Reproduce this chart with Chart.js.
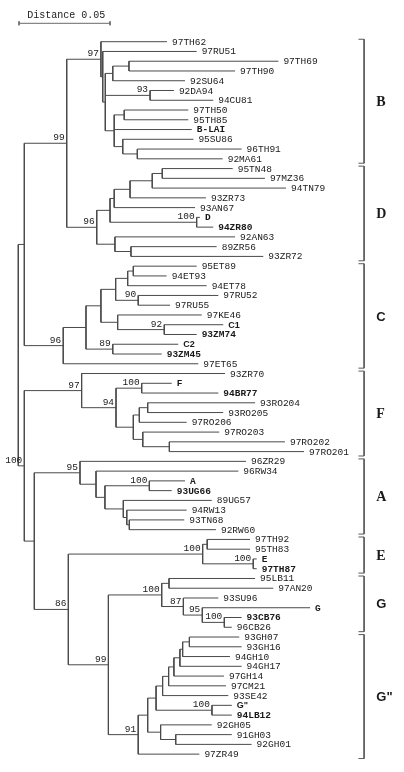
<!DOCTYPE html>
<html><head><meta charset="utf-8">
<script src="https://cdn.jsdelivr.net/npm/chart.js@4"></script>
<style>html,body{margin:0;padding:0;background:#fff}canvas{display:block}</style>
</head><body>
<canvas id="c" width="404" height="772"></canvas>
<script>
// ---- Leaves (top to bottom) and their distance from the root ----
const leafNames = ["97TH62","97RU51","97TH69","97TH90","92SU64","92DA94","94CU81","97TH50","95TH85","B-LAI","95SU86","96TH91","92MA61",
  "95TN48","97MZ36","94TN79","93ZR73","93AN67","D","94ZR80","92AN63","89ZR56","93ZR72",
  "95ET89","94ET93","94ET78","97RU52","97RU55","97KE46","C1","93ZM74","C2","93ZM45","97ET65",
  "93ZR70","F","94BR77","93RO204","93RO205","97RO206","97RO203","97RO202","97RO201",
  "96ZR29","96RW34","A","93UG66","89UG57","94RW13","93TN68","92RW60",
  "97TH92","95TH83","E","97TH87",
  "95LB11","97AN20","93SU96","G","93CB76","96CB26",
  "93GH07","93GH16","94GH10","94GH17","97GH14","97CM21","93SE42","G\"","94LB12","92GH05","91GH03","92GH01","97ZR49"];
const leafDepth = [0.0817,0.0980,0.1429,0.1191,0.0916,0.0855,0.1071,0.0934,0.0934,0.0953,0.0962,0.1227,0.1123,
  0.1178,0.1355,0.1471,0.1031,0.0971,0.0998,0.1071,0.1191,0.1090,0.1346,
  0.0980,0.0815,0.1035,0.1099,0.0834,0.1008,0.1126,0.0980,0.0879,0.0788,0.0989,
  0.1136,0.0843,0.1099,0.1301,0.1126,0.0925,0.1104,0.1465,0.1570,
  0.1251,0.1209,0.0916,0.0843,0.1063,0.0925,0.0912,0.1086,
  0.1273,0.1273,0.1310,0.1310,
  0.1301,0.1401,0.1099,0.1603,0.1227,0.1173,
  0.1214,0.1227,0.1163,0.1227,0.1130,0.1141,0.1154,0.1173,0.1173,0.1063,0.1173,0.1282,0.0995];
const boldMonoLeaves = ["B-LAI","D","94ZR80","93ZM74","93ZM45","F","94BR77","A","93UG66","E","97TH87","G","93CB76","94LB12"];
const boldSansLeaves = ["C1","C2","G\""];

// ---- Internal nodes: id, distance from root, children, bootstrap ----
const nodeIds = ["root","nBDC","nBD","nB","nB1","nB2","nSU","nTH69","nDA","nB5","nTH50","nSU86","nTH91",
  "nD","nD1","nD2","nD3","nD4","nD5","nDref","nD6","nD7",
  "nC","nC1","nC3","nC4","nC6","nC8","nC7","nC5","nC9","nC2",
  "nFAEG","nF","nF1","nFref","nF2","nF3","nF5","nF4","nF6",
  "nAEG","nA","nA1","nA2","nAref","nA3","nA4","nA5",
  "nEG","nE","nE1","nEref","nGG","nG","nG1","nG2","nG3","nG4",
  "nGpp","nH1","nH2","nH5","nH6","nH7","nH8","nH9","nH10","nHref","nH3","nH4"];
const nodeDepth = [0,0.0033,0.0266,0.0454,0.0464,0.0478,0.0519,0.0608,0.0724,0.0527,0.0582,0.0574,0.0654,
  0.0431,0.0504,0.0527,0.0614,0.0736,0.0791,0.0980,0.0531,0.0619,
  0.0247,0.0372,0.0454,0.0535,0.0601,0.0632,0.0659,0.0546,0.0802,0.0519,
  0.0033,0.0348,0.0537,0.0678,0.0632,0.0665,0.0711,0.0684,0.0830,
  0.0088,0.0339,0.0427,0.0476,0.0720,0.0577,0.0596,0.0610,
  0.0275,0.1013,0.1038,0.1291,0.0495,0.0788,0.0828,0.0907,0.1011,0.1132,
  0.0659,0.0711,0.0757,0.0793,0.0826,0.0855,0.0888,0.0903,0.0940,0.1064,0.0782,0.0865];
const nodeKids = [["nBDC","nFAEG"],["nBD","nC"],["nB","nD"],["97TH62","nB1"],["97RU51","nB2"],["nSU","nDA","nB5"],["nTH69","92SU64"],["97TH69","97TH90"],["92DA94","94CU81"],["nTH50","B-LAI","nSU86"],["97TH50","95TH85"],["95SU86","nTH91"],["96TH91","92MA61"],
  ["nD1","nD6"],["nD2","nDref"],["nD3","93AN67"],["nD4","93ZR73"],["nD5","94TN79"],["95TN48","97MZ36"],["D","94ZR80"],["92AN63","nD7"],["89ZR56","93ZR72"],
  ["nC1","97ET65"],["nC3","nC2"],["nC4","nC5"],["nC6","nC7"],["nC8","94ET78"],["95ET89","94ET93"],["97RU52","97RU55"],["97KE46","nC9"],["C1","93ZM74"],["C2","93ZM45"],
  ["nF","nAEG"],["93ZR70","nF1"],["nFref","nF2"],["F","94BR77"],["nF3","nF4"],["nF5","97RO206"],["93RO204","93RO205"],["97RO203","nF6"],["97RO202","97RO201"],
  ["nA","nEG"],["96ZR29","nA1"],["96RW34","nA2"],["nAref","nA3"],["A","93UG66"],["89UG57","nA4"],["94RW13","nA5"],["93TN68","92RW60"],
  ["nE","nGG"],["nE1","nEref"],["97TH92","95TH83"],["E","97TH87"],["nG","nGpp"],["nG1","nG2"],["95LB11","97AN20"],["93SU96","nG3"],["G","nG4"],["93CB76","96CB26"],
  ["nH1","97ZR49"],["nH2","nH3"],["nH5","nHref"],["nH6","93SE42"],["nH7","97CM21"],["nH8","97GH14"],["nH9","94GH17"],["nH10","94GH10"],["93GH07","93GH16"],["G\"","94LB12"],["92GH05","nH4"],["91GH03","92GH01"]];
const nodeSupport = [null,null,99,97,null,null,null,null,93,null,null,null,null,
  96,null,null,null,null,null,100,null,null,
  96,null,null,null,null,null,90,null,92,89,
  100,97,94,100,null,null,null,null,null,
  null,95,null,null,100,null,null,null,
  86,100,null,100,99,100,null,87,95,100,
  91,null,null,null,null,null,null,null,null,100,null,null];

// ---- Subtype brackets ----
const cladeNames = ["B","D","C","F","A","E","G","G\""];
const cladeFirst = [0,13,23,34,43,51,55,61];
const cladeLast  = [12,22,33,42,50,54,60,73];
const cladeSerif = [true,true,false,true,true,true,false,false];

// ---- Scale bar ----
const scaleBarLength = 0.05;
const scaleBarLabel = "Distance 0.05";

// ---------- build ----------
const depthOf = {}, yOf = {}, kidsOf = {};
leafNames.forEach((n,i)=>{ depthOf[n]=leafDepth[i]; yOf[n]=i; });
nodeIds.forEach((id,i)=>{ depthOf[id]=nodeDepth[i]; kidsOf[id]=nodeKids[i]; });
function getY(id){
  if (id in yOf) return yOf[id];
  const k = kidsOf[id];
  const v = (getY(k[0]) + getY(k[k.length-1]))/2;
  yOf[id] = v; return v;
}
nodeIds.forEach(getY);

const GAP = {x:null, y:null};
const branchPts = [];
nodeIds.forEach(id=>{
  const k = kidsOf[id], x = depthOf[id];
  branchPts.push({x, y:yOf[k[0]]},{x, y:yOf[k[k.length-1]]},GAP);
  k.forEach(c=>branchPts.push({x, y:yOf[c]},{x:depthOf[c], y:yOf[c]},GAP));
});

const BRX = 0.19, BRT = 0.0031, CLX = 0.1967;
const bracketPts = [];
cladeNames.forEach((n,i)=>{
  const t = cladeFirst[i]-0.25, b = cladeLast[i]+0.45;
  bracketPts.push({x:BRX-BRT,y:t},{x:BRX,y:t},{x:BRX,y:b},{x:BRX-BRT,y:b},GAP);
});

const SBY = -1.885;
const scalePts = [{x:0.0004,y:SBY-0.2},{x:0.0004,y:SBY+0.2},GAP,
  {x:0.0004,y:SBY},{x:0.0004+scaleBarLength,y:SBY},GAP,
  {x:0.0004+scaleBarLength,y:SBY-0.2},{x:0.0004+scaleBarLength,y:SBY+0.2}];

const MONO = '"Liberation Mono","Courier New",monospace';
const SANS = '"Liberation Sans",Arial,sans-serif';
const SERIF = '"Liberation Serif","Times New Roman",serif';

const textPlugin = {
  id:'treeText',
  afterDatasetsDraw(chart){
    const ctx = chart.ctx, xs = chart.scales.x, ys = chart.scales.y;
    ctx.save();
    ctx.fillStyle = '#1a1a1a';
    ctx.textBaseline = 'middle';
    ctx.textAlign = 'left';
    leafNames.forEach((n,i)=>{
      if (boldSansLeaves.includes(n)) ctx.font = 'bold 9px ' + SANS;
      else if (boldMonoLeaves.includes(n)) ctx.font = 'bold 9.5px ' + MONO;
      else ctx.font = '9.5px ' + MONO;
      ctx.fillText(n, xs.getPixelForValue(leafDepth[i]) + 5, ys.getPixelForValue(i) + 0.5);
    });
    ctx.font = '9.5px ' + MONO;
    ctx.textAlign = 'right';
    nodeIds.forEach((id,i)=>{
      if (nodeSupport[i] == null) return;
      ctx.fillText(String(nodeSupport[i]), xs.getPixelForValue(nodeDepth[i]) - 2, ys.getPixelForValue(yOf[id]) - 5.5);
    });
    ctx.textAlign = 'left';
    cladeNames.forEach((n,i)=>{
      ctx.font = cladeSerif[i] ? 'bold 14px ' + SERIF : 'bold 13px ' + SANS;
      const mid = (cladeFirst[i]-0.25 + cladeLast[i]+0.45)/2;
      ctx.fillText(n, xs.getPixelForValue(CLX), ys.getPixelForValue(mid) + 1);
    });
    ctx.font = '10px ' + MONO;
    ctx.fillText(scaleBarLabel, xs.getPixelForValue(0.0049), ys.getPixelForValue(SBY - 0.85));
    ctx.restore();
  }
};

const lineStyle = {showLine:true, pointRadius:0, borderWidth:1, spanGaps:false, tension:0, fill:false};
new Chart(document.getElementById('c'), {
  type:'scatter',
  data:{datasets:[
    Object.assign({label:'branches', data:branchPts, borderColor:'#4a4a4a'}, lineStyle),
    Object.assign({label:'brackets', data:bracketPts, borderColor:'#5a5a5a'}, lineStyle),
    Object.assign({label:'scale', data:scalePts, borderColor:'#6a6a6a'}, lineStyle)
  ]},
  options:{
    responsive:false, animation:false, events:[],
    layout:{padding:0},
    plugins:{legend:{display:false}, tooltip:{enabled:false}},
    scales:{
      x:{type:'linear', display:false, min:-0.01005, max:0.21192},
      y:{type:'linear', display:false, reverse:true, min:-4.273, max:74.83}
    }
  },
  plugins:[textPlugin]
});
</script>
</body></html>
